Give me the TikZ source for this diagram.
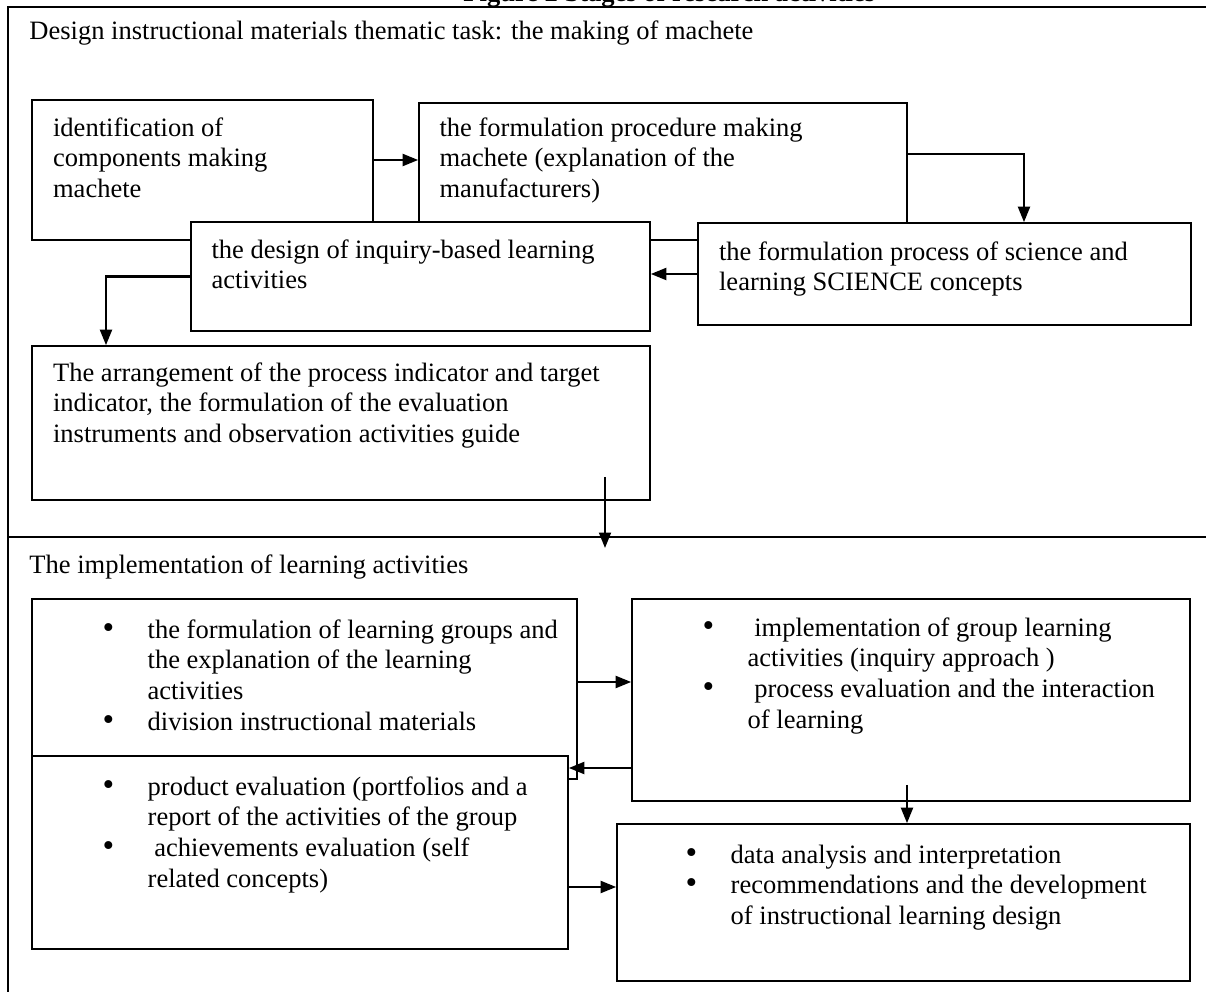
\documentclass[tikz,border=0pt]{standalone}
\usepackage{fontspec}
\setmainfont{Liberation Serif}
\usetikzlibrary{arrows.meta,fit}

\newcommand{\tlines}[1]{\begin{tabular}[t]{@{}l@{}}#1\end{tabular}}
\newcommand{\bitems}[1]{\begin{tabular}[t]{@{}p{20.4pt}@{}l@{}}#1\end{tabular}}
\newcommand{\bdot}{{\fontsize{15}{13.9}\selectfont\textbullet}}

\begin{document}
\begin{tikzpicture}[x=0.4525pt, y=-0.4525pt,
		stage/.style={rectangle, draw, fill=white, line width=0.75pt, inner sep=0pt},
		txt/.style={anchor=base west, inner sep=0pt, font=\fontsize{12}{13.9}\selectfont},
		arrow/.style={-{Triangle[length=7pt,width=5.4pt]}, line width=1pt},
		frame/.style={line width=1pt}]

		\useasboundingbox (0,0) rectangle (1206,992);
		\clip (0,0) rectangle (1206,992);

		% frame and section titles
		\node [txt, font=\fontsize{12}{13.9}\selectfont\bfseries] (title) at (463,1.5) {Figure 2 Stages of research activities};
		\draw [frame] (8,992) -- (8,7) -- (1206,7);
		\draw [frame] (8,537) -- (1206,537);
		\node [txt] (design head) at (29,40) {Design instructional materials thematic task: the making of machete};
		\node [txt] (impl head) at (29,574) {The implementation of learning activities};

		% design stage
		\node [stage, fit={(32,100) (373,240)}] (ident) {};
		\node [txt] (ident text) at ([shift={(21.5,37)}]ident.north west) {\tlines{identification of\\components making\\machete}};
		\node [stage, fit={(419,103) (907,240)}] (proc) {};
		\node [txt] (proc text) at ([shift={(21,34)}]proc.north west) {\tlines{the formulation procedure making\\machete (explanation of the\\manufacturers)}};
		\node [stage, fit={(698,223) (1191,325)}] (sci) {};
		\node [txt] (sci text) at ([shift={(21.5,38)}]sci.north west) {\tlines{the formulation process of science and\\learning SCIENCE concepts}};
		\node [stage, fit={(191,222) (650,331)}] (inquiry) {};
		\node [txt] (inquiry text) at ([shift={(21,37)}]inquiry.north west) {\tlines{the design of inquiry-based learning\\activities}};
		\node [stage, fit={(32,346) (650,500)}] (arrange) {};
		\node [txt] (arrange text) at ([shift={(21.5,36)}]arrange.north west) {\tlines{The arrangement of the process indicator and target\\indicator, the formulation of the evaluation\\instruments and observation activities guide}};

		% implementation stage
		\node [stage, fit={(32,599) (577,779)}] (groups) {};
		\node [txt] (groups text) at ([shift={(71,40)}]groups.north west) {\bitems{\bdot & the formulation of learning groups and\\ & the explanation of the learning\\ & activities\\ \bdot & division instructional materials}};
		\node [stage, fit={(632,599) (1190,801)}] (act) {};
		\node [txt] (act text) at ([shift={(71,38)}]act.north west) {\bitems{\bdot & \ implementation of group learning\\ & activities (inquiry approach )\\ \bdot & \ process evaluation and the interaction\\ & of learning}};
		\node [stage, fit={(32,756) (568,949)}] (prod) {};
		\node [txt] (prod text) at ([shift={(71,40)}]prod.north west) {\bitems{\bdot & product evaluation (portfolios and a\\ & report of the activities of the group\\ \bdot & \ achievements evaluation (self\\ & related concepts)}};
		\node [stage, fit={(617,824) (1190,981)}] (data) {};
		\node [txt] (data text) at ([shift={(69,40)}]data.north west) {\bitems{\bdot & data analysis and interpretation\\ \bdot & recommendations and the development\\ & of instructional learning design}};

		% connectors
		\coordinate (arrange out) at (605,477);
		\coordinate (impl in) at (605,548);
		\coordinate (act out) at (907,785);

		\draw [arrow] (ident.east |- 0,160) -- (proc.west |- 0,160);
		\draw [arrow] (proc.east |- 0,154) -| (sci.north -| 1024,0);
		\draw [arrow] (sci.west) -- (sci.west -| inquiry.east);
		\draw [arrow] (inquiry.west) -| (arrange.north -| 106,0);
		\draw [arrow] (arrange out) -- (impl in);
		\draw [arrow] (groups.east |- 0,682) -- (act.west |- 0,682);
		\draw [arrow] (act.west |- 0,768) -- (prod.east |- 0,768);
		\draw [arrow] (act out) -- (act out |- data.north);
		\draw [arrow] (prod.east |- 0,887) -- (data.west |- 0,887);

	\end{tikzpicture}
\end{document}
